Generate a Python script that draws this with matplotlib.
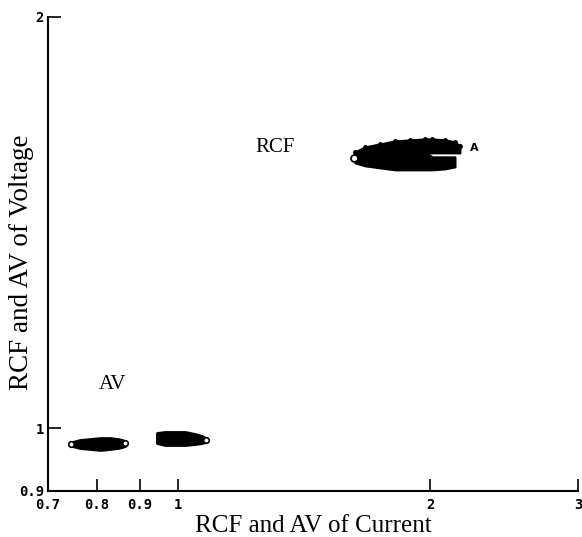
import matplotlib
matplotlib.use("Agg")
import matplotlib.pyplot as plt

# AV cluster, lower-left blob
av1_x = [0.748, 0.764, 0.786, 0.808, 0.830, 0.848, 0.858, 0.865]
av1_top = [0.9774, 0.9807, 0.9824, 0.9840, 0.9840, 0.9824, 0.9807, 0.9791]
av1_bot = [0.9709, 0.9676, 0.9660, 0.9644, 0.9660, 0.9676, 0.9692, 0.9709]
av1_ends_x = [0.745, 0.865]
av1_ends_y = [0.9741, 0.9758]

# AV cluster near 1
av2_x = [0.944, 0.965, 0.992, 1.020, 1.048, 1.069, 1.078]
av2_top = [0.9924, 0.9941, 0.9941, 0.9941, 0.9907, 0.9873, 0.9840]
av2_bot = [0.9758, 0.9725, 0.9725, 0.9725, 0.9741, 0.9758, 0.9774]
av2_end_x = [1.081]
av2_end_y = [0.9807]

# RCF cluster, upper arm and lower arm
rcf_x = [1.626, 1.672, 1.742, 1.815, 1.892, 1.971, 2.010, 2.083, 2.140, 2.169]
rcf_top = [1.5936, 1.6070, 1.6151, 1.6233, 1.6260, 1.6288, 1.6288, 1.6260, 1.6206, 1.6097]
rcf_mid = [1.5909, 1.5909, 1.5909, 1.5909, 1.5909, 1.5909, 1.5909, 1.5909, 1.5909, 1.5909]
rcf_lx = [1.626, 1.672, 1.742, 1.815, 1.892, 1.971, 2.010, 2.083, 2.140]
rcf_ltop = [1.5936, 1.5936, 1.5936, 1.5936, 1.5936, 1.5936, 1.5802, 1.5802, 1.5802]
rcf_lbot = [1.5643, 1.5564, 1.5512, 1.5460, 1.5460, 1.5460, 1.5460, 1.5486, 1.5538]
rcf_start = (1.620, 1.5775)
rcf_end = (2.23, 1.6043)

xticks = [0.7, 0.8, 0.9, 1, 2, 3]
xticklabels = ['0.7', '0.8', '0.9', '1', '2', '3']
yticks = [0.9, 1, 2]
yticklabels = ['0.9', '1', '2']

fig = plt.figure(figsize=(5.82, 5.37), dpi=100)
ax = fig.add_axes([48/582, 46/537, 530/582, 474/537])
ax.set_xscale('log')
ax.set_yscale('log')
ax.set_xlim(0.7, 3)
ax.set_ylim(0.9, 2)

#blobs
ax.fill_between(av1_x, av1_bot, av1_top, color='black', lw=2)
ax.fill_between(av2_x, av2_bot, av2_top, color='black', lw=2)
ax.fill_between(rcf_x, rcf_mid, rcf_top, color='black', lw=1.5)
ax.fill_between(rcf_lx, rcf_lbot, rcf_ltop, color='black', lw=1.5)
ax.plot(rcf_x, rcf_top, 'o', color='black', ms=2.5)

#end markers
ax.plot(av1_ends_x, av1_ends_y, 'o', mfc='white', mec='black', ms=4, mew=1.2)
ax.plot(av2_end_x, av2_end_y, 'o', mfc='white', mec='black', ms=4, mew=1.2)
ax.plot([rcf_start[0]], [rcf_start[1]], 'o', mfc='white', mec='black', ms=5, mew=1.2)
ax.text(rcf_end[0], rcf_end[1], 'A', fontsize=8, fontweight='bold',
        ha='left', va='center', family='DejaVu Sans')

ax.text(1.3055, 1.6043, 'RCF', fontsize=15, family='Liberation Serif',
        ha='center', va='center')
ax.text(0.8367, 1.0761, 'AV', fontsize=15, family='Liberation Serif',
        ha='center', va='center')

for s in ['top', 'right']:
    ax.spines[s].set_visible(False)
for s in ['left', 'bottom']:
    ax.spines[s].set_linewidth(1.5)

ax.set_xticks(xticks)
ax.set_xticklabels(xticklabels)
ax.set_yticks(yticks)
ax.set_yticklabels(yticklabels)
ax.minorticks_off()
ax.tick_params(direction='in', length=9, width=1.2, labelsize=10)
ax.tick_params(axis='x', pad=5)
ax.tick_params(axis='y', pad=3)
for lab in ax.get_xticklabels() + ax.get_yticklabels():
    lab.set_family('DejaVu Sans Mono')
    lab.set_fontweight('bold')

ax.set_xlabel('RCF and AV of Current', fontsize=18, family='Liberation Serif')
ax.set_ylabel('RCF and AV of Voltage', fontsize=19.5, family='Liberation Serif')
ax.xaxis.set_label_coords(0.5, -0.051)
ax.yaxis.set_label_coords(-0.027, 0.483)

fig.savefig('out.png', dpi=100)
